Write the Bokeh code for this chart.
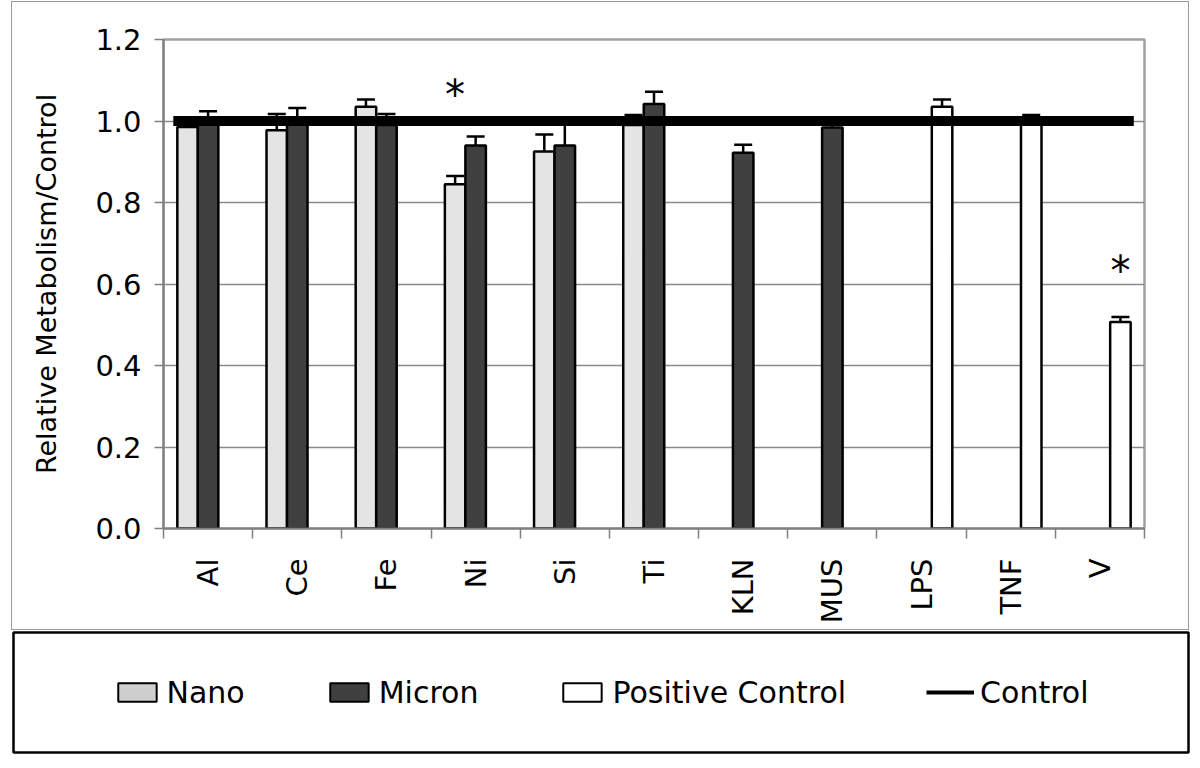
import math
from bokeh.plotting import figure
from bokeh.models import (Range1d, FixedTicker, CustomJSTickFormatter, ColumnDataSource,
                          Whisker, TeeHead, Legend, LegendItem, NumeralTickFormatter)
from bokeh.embed import file_html
from bokeh.resources import INLINE
from bokeh.core.properties import value

# ---------------- data ----------------
categories = ["Al", "Ce", "Fe", "Ni", "Si", "Ti", "KLN", "MUS", "LPS", "TNF", "V"]
nano = [0.985, 0.977, 1.035, 0.845, 0.925, 0.99, None, None, None, None, None]
nano_err = [0.016, 0.04, 0.018, 0.02, 0.042, 0.025, None, None, None, None, None]
micron = [1.0, 1.0, 0.99, 0.94, 0.94, 1.042, 0.922, 0.984, None, None, None]
micron_err = [0.024, 0.032, 0.027, 0.022, 0.058, 0.03, 0.02, 0.016, None, None, None]
positive = [None, None, None, None, None, None, None, None, 1.035, 1.0, 0.507]
positive_err = [None, None, None, None, None, None, None, None, 0.018, 0.015, 0.012]
control = [1.0] * 11
y_ticks = [0.0, 0.2, 0.4, 0.6, 0.8, 1.0, 1.2]
sig_categories = ["Ni", "V"]
sig_series = ["Nano", "Positive Control"]
sig_y = [1.063, 0.632]

series_names = ["Nano", "Micron", "Positive Control"]
series_offset = {"Nano": -0.23, "Micron": 0.0, "Positive Control": 0.23}
series_colors = {"Nano": "#e4e4e4", "Micron": "#404040", "Positive Control": "#ffffff"}
bar_width = 0.23
FONT = "DejaVu Sans"

centers = [i + 0.5 for i in range(len(categories))]

# ---------------- chart ----------------
p = figure(width=1178, height=629, x_range=Range1d(0, len(categories)), y_range=Range1d(0, 1.2),
           output_backend="svg", toolbar_location=None,
           min_border_left=151, min_border_right=46, min_border_top=37, min_border_bottom=103,
           margin=(1, 0, 0, 11),
           styles={"border": "1px solid #9a9a9a"})
p.outline_line_color = "#a0a0a0"
p.outline_line_width = 2.5
p.xgrid.visible = False
p.ygrid.ticker = FixedTicker(ticks=y_ticks)
p.ygrid.grid_line_color = "#8a8a8a"
p.ygrid.grid_line_width = 1.3

yax = p.yaxis[0]
yax.ticker = FixedTicker(ticks=y_ticks, minor_ticks=[])
yax.formatter = NumeralTickFormatter(format="0.0")
yax.axis_label = "Relative Metabolism/Control"
yax.axis_label_text_font = FONT
yax.axis_label_text_font_style = "normal"
yax.axis_label_text_font_size = "27px"
yax.axis_label_text_color = "black"
yax.axis_label_standoff = 30
yax.major_label_text_font = FONT
yax.major_label_text_font_size = "29px"
yax.major_label_text_color = "black"
yax.major_label_standoff = 13
yax.axis_line_color = "#808080"
yax.axis_line_width = 2
yax.major_tick_line_color = "#808080"
yax.major_tick_line_width = 1.5
yax.major_tick_out = 9
yax.major_tick_in = 0
yax.minor_tick_line_color = None

xax = p.xaxis[0]
xax.ticker = FixedTicker(ticks=centers, minor_ticks=list(range(len(categories) + 1)))
xax.formatter = CustomJSTickFormatter(args=dict(labels=categories),
                                      code="return labels[Math.floor(tick)];")
xax.major_label_orientation = math.pi / 2
xax.major_label_text_font = FONT
xax.major_label_text_font_size = "29px"
xax.major_label_text_color = "black"
xax.major_label_standoff = 20
xax.major_tick_out = 0
xax.major_tick_in = 0
xax.major_tick_line_color = None
xax.minor_tick_out = 10
xax.minor_tick_in = 0
xax.minor_tick_line_color = "#808080"
xax.minor_tick_line_width = 1.5
xax.axis_line_color = "#808080"
xax.axis_line_width = 2

series_vals = {"Nano": (nano, nano_err), "Micron": (micron, micron_err),
               "Positive Control": (positive, positive_err)}
for name in series_names:
    vals, errs = series_vals[name]
    xs, tops, ups, los = [], [], [], []
    for c, v, e in zip(centers, vals, errs):
        if v is None:
            continue
        xs.append(c + series_offset[name])
        tops.append(v)
        ups.append(v + e)
        los.append(v - e)
    src = ColumnDataSource(dict(x=xs, top=tops, upper=ups, lower=los))
    p.vbar(x="x", top="top", width=bar_width, source=src, fill_color=series_colors[name],
           line_color="black", line_width=2.5)
    p.add_layout(Whisker(source=src, base="x", upper="upper", lower="lower", dimension="height",
                         line_color="black", line_width=2.5,
                         upper_head=TeeHead(size=18, line_color="black", line_width=2.5),
                         lower_head=TeeHead(size=18, line_color="black", line_width=2.5)))

# control line
p.line(x=[centers[0] - 0.39, centers[-1] + 0.38], y=[control[0], control[-1]],
       line_color="black", line_width=10, line_cap="butt", level="overlay")

# significance asterisks
sx = [centers[categories.index(c)] + series_offset[s] for c, s in zip(sig_categories, sig_series)]
p.text(x=sx, y=sig_y, text=["*"] * len(sx), text_font=value(FONT), text_font_size="40px",
       text_align="center", text_baseline="middle", text_color="black", level="overlay")

# ---------------- legend box ----------------
p2 = figure(width=1179, height=124, x_range=Range1d(0, 1), y_range=Range1d(0, 1),
            x_axis_type=None, y_axis_type=None, toolbar_location=None, output_backend="svg",
            min_border_left=2, min_border_right=2, min_border_top=2, min_border_bottom=2,
            margin=(0, 0, 0, 11))
p2.outline_line_color = "black"
p2.outline_line_width = 2.5
p2.xgrid.visible = False
p2.ygrid.visible = False
# legend-only glyphs placed outside the visible range
r_nano = p2.vbar(x=[-5], top=[-5], width=0.1, fill_color="#cfcfcf", line_color="black", line_width=2)
r_micron = p2.vbar(x=[-5], top=[-5], width=0.1, fill_color="#404040", line_color="black", line_width=2)
r_pos = p2.vbar(x=[-5], top=[-5], width=0.1, fill_color="#ffffff", line_color="black", line_width=2)
r_ctrl = p2.line(x=[-5, -4], y=[-5, -5], line_color="black", line_width=4)
legend = Legend(items=[LegendItem(label="Nano", renderers=[r_nano]),
                       LegendItem(label="Micron", renderers=[r_micron]),
                       LegendItem(label="Positive Control", renderers=[r_pos]),
                       LegendItem(label="Control", renderers=[r_ctrl])],
                orientation="horizontal", location="center",
                glyph_width=48, glyph_height=23, label_standoff=6, spacing=80,
                label_text_font=FONT, label_text_font_size="30px", label_text_color="black",
                border_line_color=None, background_fill_alpha=0, padding=0, margin=0)
p2.add_layout(legend, "center")

open("out.html", "w").write(file_html([p, p2], INLINE))
